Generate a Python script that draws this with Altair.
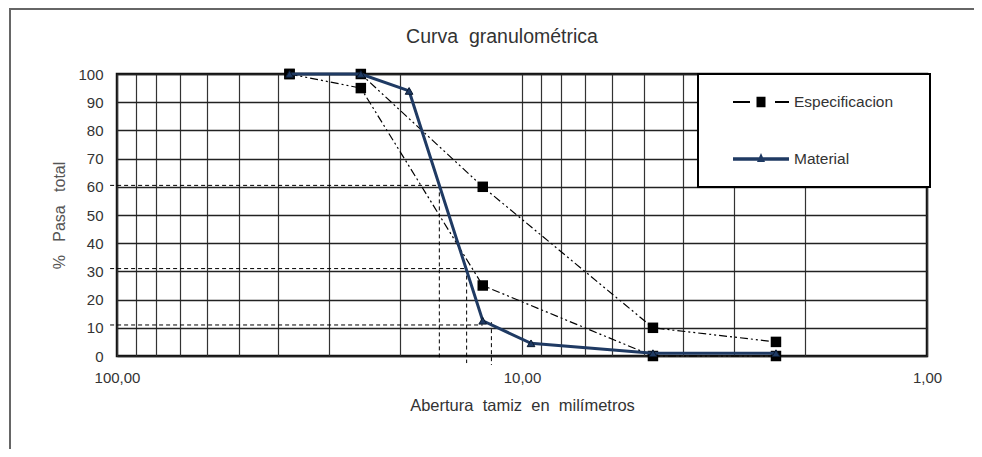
import altair as alt
import pandas as pd

# ---------------- data ----------------
# Material gradation (sieve opening in mm, % passing)
mat_size = [37.5, 25.0, 19.0, 12.5, 9.5, 4.75, 2.36]
mat_pass = [100, 100, 94, 12.5, 4.5, 1, 1]

# Specification band
spec_size = [37.5, 25.0, 12.5, 4.75, 2.36]
spec_upper = [100, 100, 60, 10, 5]
spec_lower = [100, 95, 25, 0, 0]

# Guide lines for D60 / D30 / D10
d_level = [60.5, 31, 11]
d_h_end = [16.0, 13.7, 12.5]
d_v_pos = [16.0, 13.7, 11.9]
d_v_top = [60.5, 31, 12]
d_v_bottom = [-1.5, -2.5, -3.2]
guide_start = 104

x_grid = [1, 2, 3, 4, 5, 6, 7, 8, 9, 10, 20, 30, 40, 50, 60, 70, 80, 90, 100]
y_ticks = [0, 10, 20, 30, 40, 50, 60, 70, 80, 90, 100]
series_names = ["Especificacion", "Material"]

NAVY = "#1f3a63"
FONT = "Liberation Sans"
NB = "\u00a0"

# ---------------- tables ----------------
mat_df = pd.DataFrame({"size": mat_size, "pass": mat_pass})
spec_df = pd.DataFrame({
    "size": spec_size * 2,
    "pass": spec_upper + spec_lower,
    "limit": ["sup"] * len(spec_size) + ["inf"] * len(spec_size),
})
seg_rows = []
for lv, he, vp, vt, vb in zip(d_level, d_h_end, d_v_pos, d_v_top, d_v_bottom):
    seg_rows.append({"size": guide_start, "size2": he, "pass": lv, "pass2": lv})
    seg_rows.append({"size": vp, "size2": vp, "pass": vt, "pass2": vb})
seg_df = pd.DataFrame(seg_rows)
leg_df = pd.DataFrame({"series": series_names, "size": [37.5, 37.5], "pass": [100, 100]})

xscale = alt.Scale(type="log", domain=[1, 100], reverse=True, nice=False)
yscale = alt.Scale(domain=[0, 100], nice=False)

x_axis = alt.Axis(
    values=x_grid, grid=True, ticks=False, domain=False,
    labelExpr="datum.value == 100 ? '100,00' : datum.value == 10 ? '10,00' : datum.value == 1 ? '1,00' : ''",
    labelOverlap=False, labelFlush=False, labelPadding=14, labelFontSize=15,
    labelColor="#333", labelFont=FONT,
    gridColor="#333", gridWidth=1.2,
    title="Abertura" + NB * 2 + "tamiz" + NB * 2 + "en" + NB * 2 + "milímetros",
    titleFontSize=16.5, titleFontWeight="normal", titleColor="#333", titleFont=FONT,
    titlePadding=12,
)
y_axis = alt.Axis(
    values=y_ticks, grid=True, ticks=False, domain=False, format="d",
    labelPadding=14, labelFontSize=15, labelColor="#333", labelFont=FONT,
    gridColor="#222", gridWidth=1.6,
    title="%" + NB * 3 + "Pasa" + NB * 3 + "total",
    titleFontSize=16, titleFontWeight="normal", titleColor="#555", titleFont=FONT,
    titlePadding=10,
)

def X():
    return alt.X("size:Q", scale=xscale, axis=x_axis)

def Y():
    return alt.Y("pass:Q", scale=yscale, axis=y_axis)

# frame around the figure (decoration)
frame = alt.Chart(pd.DataFrame({"a": [0]})).mark_rect(
    fillOpacity=0, stroke="#666", strokeWidth=2
).encode(x=alt.value(-107), x2=alt.value(900), y=alt.value(-65), y2=alt.value(500))

guides = alt.Chart(seg_df).mark_rule(
    color="black", strokeWidth=1, strokeDash=[4, 3]
).encode(x=X(), x2="size2:Q", y=Y(), y2="pass2:Q")

spec_lines = alt.Chart(spec_df).mark_line(
    color="black", strokeWidth=1.2, strokeDash=[8, 3, 2, 3, 2, 3]
).encode(x=X(), y=Y(), detail="limit:N")

spec_pts = alt.Chart(spec_df).mark_square(
    size=110, color="black", opacity=1
).encode(x=X(), y=Y())

mat_line = alt.Chart(mat_df).mark_line(
    color=NAVY, strokeWidth=3
).encode(x=X(), y=Y())

mat_pts = alt.Chart(mat_df).mark_point(
    shape="triangle-up", filled=True, size=60, color=NAVY, opacity=1,
    stroke="#0b1a30", strokeWidth=1
).encode(x=X(), y=Y())

# legend symbols: custom paths (line + marker); 1 unit = 9 px
path_spec = ("M-3.111,-0.122H-1.222V0.122H-3.111Z "
             "M-0.5,-0.578H0.5V0.578H-0.5Z "
             "M1.556,-0.122H3.111V0.122H1.556Z")
path_mat = ("M-3.111,-0.194H3.111V0.194H-3.111Z "
            "M0,-0.667L0.444,0.333L-0.444,0.333Z")

leg = alt.Legend(
    title="xx", titleOrient="right", titleColor="white", titleFontSize=12,
    titlePadding=4,
    orient="none", legendX=581, legendY=0,
    padding=19, rowPadding=39, symbolSize=324, symbolStrokeWidth=0,
    symbolOffset=35, symbolOpacity=1, labelOffset=24, labelFontSize=15.5,
    labelColor="#333", labelFont=FONT, fillColor="white", strokeColor="black",
)
carrier = alt.Chart(leg_df).mark_point(
    opacity=0, filled=True, size=324
).encode(
    x=X(), y=Y(),
    shape=alt.Shape("series:N", scale=alt.Scale(domain=series_names, range=[path_spec, path_mat]), legend=leg),
    fill=alt.Fill("series:N", scale=alt.Scale(domain=series_names, range=["black", NAVY]), legend=leg),
)

chart = alt.layer(
    frame, guides, spec_lines, spec_pts, mat_line, mat_pts, carrier
).properties(
    width=810, height=282,
    padding={"left": 109, "top": 66, "right": 47, "bottom": 93},
    autosize=alt.AutoSizeParams(type="none"),
    title=alt.TitleParams(
        "Curva" + NB * 2 + "granulométrica", fontSize=19.5, font=FONT,
        fontWeight="normal", color="#333", anchor="middle", frame="group",
        dx=-20, dy=86, offset=32, baseline="alphabetic",
    ),
).configure(font=FONT).configure_view(
    stroke="#111", strokeWidth=2.5
).configure_legend(strokeWidth=2)

chart.save("out.html", embed_options={"renderer": "svg", "actions": False})
